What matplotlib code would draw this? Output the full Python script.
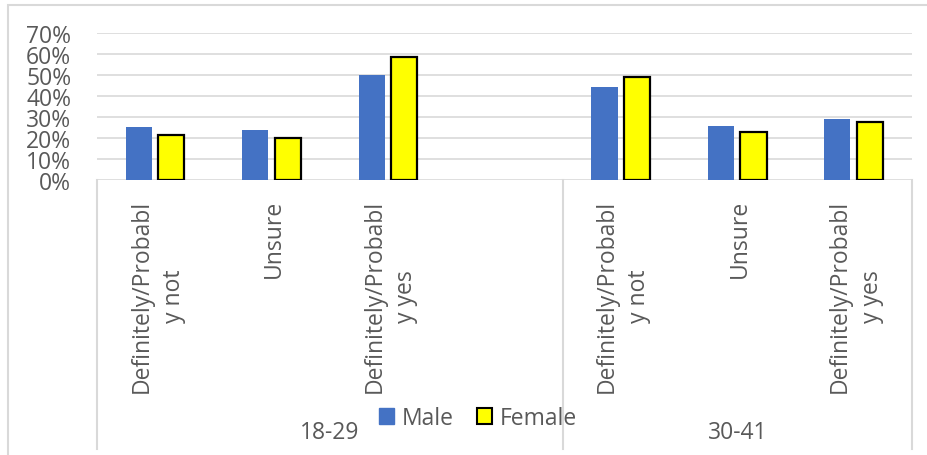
import numpy as np
import matplotlib
matplotlib.use('Agg')
import matplotlib.pyplot as plt
from matplotlib.patches import Patch, Rectangle
from matplotlib.ticker import PercentFormatter

# survey answers by age band, one blank slot keeps the Excel spacing
age_groups = ['18-29', '30-41']
group_sizes = [4, 3]
answers = ['Definitely/Probabl\ny not', 'Unsure', 'Definitely/Probabl\ny yes', '',
           'Definitely/Probabl\ny not', 'Unsure', 'Definitely/Probabl\ny yes']
male = [0.254, 0.237, 0.501, np.nan, 0.444, 0.256, 0.292]
female = [0.213, 0.198, 0.586, np.nan, 0.492, 0.230, 0.276]

BLUE = '#4472C4'
YELLOW = '#FFFF00'
GRID = '#D9D9D9'
TEXT = '#595959'
FONT = 'Open Sans'
FS = 16.5

plt.rcParams['font.family'] = [FONT, 'DejaVu Sans']

W, H = 928, 456
fig = plt.figure(figsize=(W / 100, H / 100), dpi=100)
ax = fig.add_axes([97 / W, 1 - 181 / H, (912 - 97) / W, 147 / H])

x = np.arange(len(answers)) + 0.5
bw = 0.225
ax.bar(x - 0.141, male, bw, color=BLUE, zorder=3)
ax.bar(x + 0.139, female, bw, color=YELLOW, edgecolor='black', linewidth=1.6, zorder=3)

ax.set_xlim(0, len(answers))
ax.set_ylim(0, 0.7)
ax.set_yticks(np.arange(0, 0.71, 0.1))
ax.yaxis.set_major_formatter(PercentFormatter(1.0, decimals=0))
ax.tick_params(axis='y', length=0, pad=18.5, labelsize=FS, labelcolor=TEXT)
ax.set_xticks([])
for s in ax.spines.values():
    s.set_visible(False)
for v in np.arange(0.1, 0.71, 0.1):
    ax.axhline(v, color=GRID, lw=1.2, zorder=1)
ax.axhline(0, color=GRID, lw=1.2, zorder=2)

# two-level category axis
trans = ax.get_xaxis_transform()
bottom = (181 - 450) / 147
edges = np.concatenate([[0], np.cumsum(group_sizes)])
for e in edges:
    ax.plot([e, e], [0, bottom], transform=trans, color=GRID, lw=1.5, clip_on=False)
for xi, lab in zip(x, answers):
    ax.text(xi + 0.02, (181 - 200) / 147, lab, transform=trans, rotation=90,
            ha='center', va='top', multialignment='center', linespacing=1.45,
            fontsize=FS, color=TEXT)
for g, lo, hi in zip(age_groups, edges[:-1], edges[1:]):
    ax.text((lo + hi) / 2, (181 - 433) / 147, g, transform=trans,
            ha='center', va='center', fontsize=FS, color=TEXT)

handles = [Patch(facecolor=BLUE, edgecolor=BLUE, label='Male'),
           Patch(facecolor=YELLOW, edgecolor='black', linewidth=1.5, label='Female')]
fig.legend(handles=handles, loc='center', bbox_to_anchor=(478 / W, 1 - 419 / H),
           ncol=2, frameon=False, fontsize=FS, labelcolor=TEXT,
           handlelength=0.65, handleheight=0.65, handletextpad=0.35,
           columnspacing=1.0, borderpad=0)

fig.add_artist(Rectangle((8 / W, -0.1), 2, 1.1 - 6 / H, transform=fig.transFigure,
                         fill=False, edgecolor=GRID, lw=1.5))

fig.savefig('out.png', dpi=100)
